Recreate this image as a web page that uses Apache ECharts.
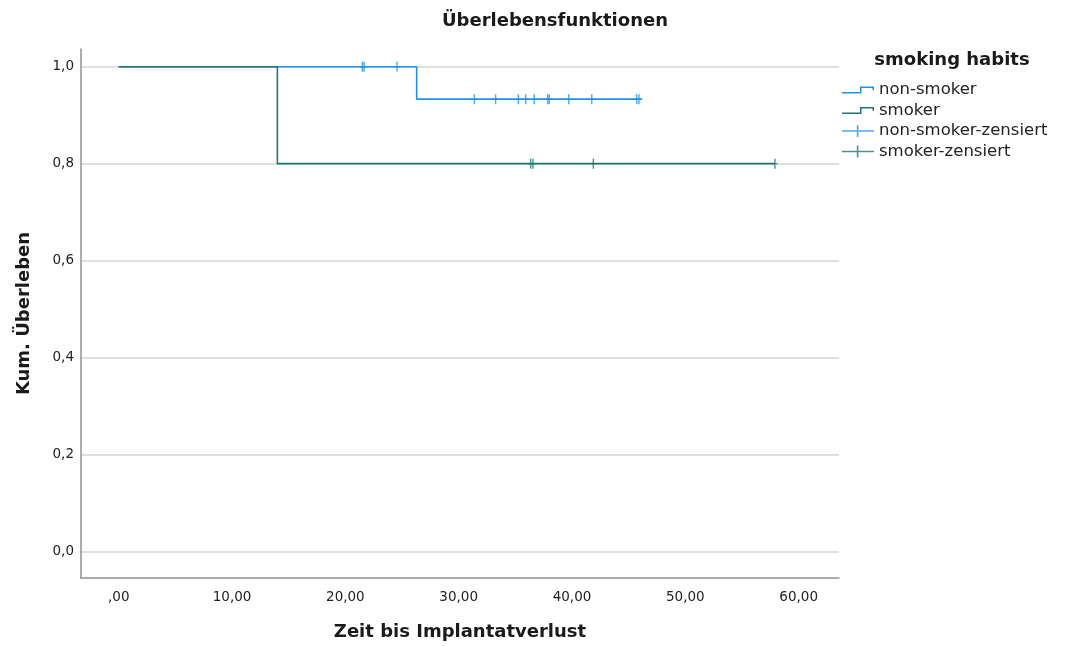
<!DOCTYPE html>
<html>
<head>
<meta charset="utf-8">
<script src="https://cdn.jsdelivr.net/npm/echarts@6/dist/echarts.min.js"></script>
<style>
  html, body { margin: 0; padding: 0; background: #fff; }
  #chart { width: 1065px; height: 646px; }
</style>
</head>
<body>
<div id="chart"></div>
<script>
// ---- data ----
const groupNames = ['non-smoker', 'smoker'];
const censorNames = ['non-smoker-zensiert', 'smoker-zensiert'];

// Kaplan-Meier step points (time, cumulative survival)
const nonSmokerTimes = [0, 26.29, 46.2];
const nonSmokerSurv = [1.0, 0.933, 0.933];
const smokerTimes = [0, 14.0, 57.91];
const smokerSurv = [1.0, 0.8, 0.8];

// censored observation times
const nonSmokerCensored = [21.5, 21.65, 24.56, 31.38, 33.26, 35.26, 35.91, 36.67, 37.85, 37.99, 39.71, 41.74, 45.71, 45.91];
const smokerCensored = [36.35, 36.55, 41.88, 57.91];

const xTickValues = [0, 10, 20, 30, 40, 50, 60];
const yTickValues = [0, 0.2, 0.4, 0.6, 0.8, 1.0];

const titleText = 'Überlebensfunktionen';
const legendTitle = 'smoking habits';
const xName = 'Zeit bis Implantatverlust';
const yName = 'Kum. Überleben';

// ---- helpers ----
function stepPoints(times, surv) {
  return times.map((t, i) => [t, surv[i]]);
}
function survAt(times, surv, t) {
  let v = surv[0];
  for (let i = 0; i < times.length; i++) { if (times[i] <= t) v = surv[i]; }
  return v;
}
function censorPoints(cens, times, surv) {
  return cens.map(t => [t, survAt(times, surv, t)]);
}
function isTick(v, list) { return list.some(t => Math.abs(t - v) < 1e-6); }

const colorNon = '#2392e6';
const colorSmk = '#237575';
const FONT = 'DejaVu Sans';

const stepIcon = 'path://M0,5.5H19.5V7H0Z M18,0H19.5V7H18Z M18,0H32V1.5H18Z M30.5,0H32V3.8H30.5Z';
const crossIcon = 'path://M0,5.2H32V6.8H0Z M14.8,0H16.4V12H14.8Z';
const censorSymbol = 'path://M0,4.3H5V5.7H0Z M1.8,0H3.2V10H1.8Z';

const chart = echarts.init(document.getElementById('chart'), null, { renderer: 'canvas' });

const option = {
  animation: false,
  backgroundColor: '#ffffff',
  grid: { left: 81, right: 226, top: 49, bottom: 68, containLabel: false },
  graphic: [
    { type: 'text', x: 555, y: 21, silent: true,
      style: { text: titleText, align: 'center', verticalAlign: 'middle',
               font: 'bold 18px "DejaVu Sans"', fill: '#1a1a1a' } },
    { type: 'text', x: 952, y: 60, silent: true,
      style: { text: legendTitle, align: 'center', verticalAlign: 'middle',
               font: 'bold 18px "DejaVu Sans"', fill: '#1a1a1a' } }
  ],
  legend: {
    orient: 'vertical',
    left: 842,
    top: 80,
    padding: 0,
    itemWidth: 32,
    itemHeight: 12,
    itemGap: 0.5,
    selectedMode: false,
    textStyle: { fontFamily: FONT, fontSize: 16.5, color: '#222', lineHeight: 20 },
    data: [
      { name: groupNames[0], icon: stepIcon, itemStyle: { color: colorNon, borderWidth: 0 } },
      { name: groupNames[1], icon: stepIcon, itemStyle: { color: colorSmk, borderWidth: 0 } },
      { name: censorNames[0], icon: crossIcon, itemStyle: { color: colorNon, borderWidth: 0 } },
      { name: censorNames[1], icon: crossIcon, itemStyle: { color: colorSmk, borderWidth: 0 } }
    ]
  },
  xAxis: {
    type: 'value',
    min: -3.33,
    max: 63.56,
    splitNumber: 6,
    name: xName,
    nameLocation: 'middle',
    nameGap: 45,
    nameTextStyle: { fontFamily: FONT, fontWeight: 'bold', fontSize: 18, color: '#1a1a1a' },
    axisLine: { show: true, onZero: false, lineStyle: { color: '#919191', width: 1.5 } },
    axisTick: { show: false },
    splitLine: { show: false },
    axisLabel: {
      showMinLabel: false, showMaxLabel: false,
      margin: 12,
      fontFamily: FONT, fontSize: 13.5, color: '#222',
      formatter: v => isTick(v, xTickValues) ? (v === 0 ? ',00' : v.toFixed(2).replace('.', ',')) : ''
    }
  },
  yAxis: {
    type: 'value',
    min: -0.0548,
    max: 1.0365,
    splitNumber: 5,
    name: yName,
    nameLocation: 'middle',
    nameGap: 48,
    nameRotate: 90,
    nameTextStyle: { fontFamily: FONT, fontWeight: 'bold', fontSize: 18, color: '#1a1a1a' },
    axisLine: { show: true, onZero: false, lineStyle: { color: '#919191', width: 1.5 } },
    axisTick: { show: false },
    splitLine: { show: true, showMinLine: false, showMaxLine: false, lineStyle: { color: '#d4d4d4', width: 1.5 } },
    axisLabel: {
      showMinLabel: false, showMaxLabel: false,
      margin: 7,
      fontFamily: FONT, fontSize: 13.5, color: '#222',
      formatter: v => isTick(v, yTickValues) ? v.toFixed(1).replace('.', ',') : ''
    }
  },
  series: [
    {
      name: groupNames[0], type: 'line', step: 'end', showSymbol: false, silent: true,
      data: stepPoints(nonSmokerTimes, nonSmokerSurv),
      itemStyle: { color: colorNon },
      lineStyle: { color: colorNon, width: 1.6 }
    },
    {
      name: groupNames[1], type: 'line', step: 'end', showSymbol: false, silent: true,
      data: stepPoints(smokerTimes, smokerSurv),
      itemStyle: { color: colorSmk },
      lineStyle: { color: colorSmk, width: 1.6 }
    },
    {
      name: censorNames[0], type: 'scatter', symbol: censorSymbol, symbolSize: [5, 10], silent: true,
      data: censorPoints(nonSmokerCensored, nonSmokerTimes, nonSmokerSurv),
      itemStyle: { color: colorNon }
    },
    {
      name: censorNames[1], type: 'scatter', symbol: censorSymbol, symbolSize: [5, 10], silent: true,
      data: censorPoints(smokerCensored, smokerTimes, smokerSurv),
      itemStyle: { color: colorSmk }
    }
  ]
};

chart.setOption(option);
</script>
</body>
</html>
